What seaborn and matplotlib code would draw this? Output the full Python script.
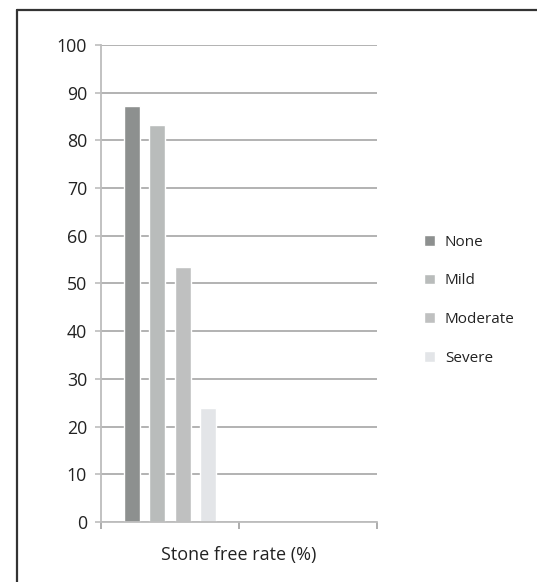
import matplotlib
matplotlib.use("Agg")
import matplotlib.pyplot as plt
from matplotlib.lines import Line2D
import seaborn as sns
import pandas as pd

# Stone free rate by hydronephrosis grade
grades = ["None", "Mild", "Moderate", "Severe"]
stone_free_rate = [87.2, 83.3, 53.5, 24.0]
bar_colors = ["#8d908f", "#b9bcbb", "#bfc0c0", "#e3e5e8"]
group_label = "Stone free rate (%)"
y_ticks = list(range(0, 101, 10))

df = pd.DataFrame({
    "group": [group_label] * len(grades),
    "grade": grades,
    "rate": stone_free_rate,
})

sns.set_theme(style="white")
plt.rcParams["font.family"] = ["Open Sans", "DejaVu Sans"]

fig = plt.figure(figsize=(5.37, 5.82), dpi=100)
ax = fig.add_axes([0.188, 0.103, 0.514, 0.820])

sns.barplot(data=df, x="group", y="rate", hue="grade", hue_order=grades,
            palette=bar_colors, width=0.735, gap=0.36, dodge=True,
            saturation=1, legend=True, ax=ax)

ax.set_xlim(-0.5, 1.5)
ax.set_ylim(0, 100)
ax.set_yticks(y_ticks)
ax.set_yticklabels([str(t) for t in y_ticks], fontsize=12.8, color="#222222")
ax.set_xticks([-0.5, 0.5, 1.5])
ax.set_xticklabels([])
ax.set_xlabel(group_label, fontsize=13, color="#222222", labelpad=9)
ax.set_ylabel("")

ax.grid(axis="y", color="#a5a5a5", linewidth=1.2, zorder=0)
ax.set_axisbelow(True)
for side in ["top", "right"]:
    ax.spines[side].set_visible(False)
for side in ["left", "bottom"]:
    ax.spines[side].set_color("#bdbdbd")
    ax.spines[side].set_linewidth(1.3)
ax.tick_params(axis="y", which="major", length=4, width=1.2, color="#bdbdbd",
               direction="out", pad=6, left=True)
ax.tick_params(axis="x", which="major", length=5, width=1.2, color="#a0a0a0",
               direction="out", bottom=True)

handles, labels = ax.get_legend_handles_labels()
ax.legend_.remove()
fig.legend(handles, labels, loc="center left", bbox_to_anchor=(0.790, 0.484),
           bbox_transform=fig.transFigure, frameon=False, fontsize=11,
           handlelength=0.7, handleheight=0.7, handletextpad=0.65,
           labelspacing=1.55, borderpad=0, borderaxespad=0,
           labelcolor="#222222")

# Page frame lines on the left and top
fig.add_artist(Line2D([0.0317, 0.0317], [0.0, 0.983], transform=fig.transFigure,
                      color="#333333", linewidth=1.6))
fig.add_artist(Line2D([0.0317, 1.0], [0.983, 0.983], transform=fig.transFigure,
                      color="#333333", linewidth=1.6))

fig.savefig("out.png", dpi=100)
